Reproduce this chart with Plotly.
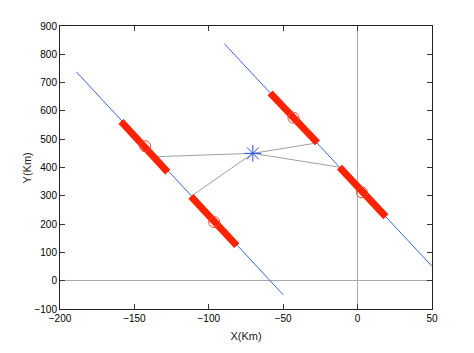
import plotly.graph_objects as go

# Data
line1_x = [-189, -50]
line1_y = [738, -50]
line2_x = [-89.5, 50]
line2_y = [837, 51]

seg_x = [[-159, -127.6], [-112, -81.2], [-58.8, -27], [-12.2, 19]]
seg_y = [[563, 384], [298, 124], [664, 487], [401, 226]]

circle_x = [-142.8, -96.4, -43.1, 2.9]
circle_y = [475, 207, 576, 312]

star_x = [-70.4]
star_y = [450]

link_x = [[-70.4, -136.3], [-70.4, -112], [-70.4, -27], [-70.4, -12.2]]
link_y = [[450, 438], [450, 298], [450, 487], [450, 401]]

x_ticks = [-200, -150, -100, -50, 0, 50]
y_ticks = [-100, 0, 100, 200, 300, 400, 500, 600, 700, 800, 900]

fig = go.Figure()

for lx, ly in ((line1_x, line1_y), (line2_x, line2_y)):
    fig.add_trace(go.Scatter(x=lx, y=ly, mode="lines",
                             line=dict(color="#3a66e8", width=1)))

for lx, ly in zip(link_x, link_y):
    fig.add_trace(go.Scatter(x=lx, y=ly, mode="lines",
                             line=dict(color="#a0a0a0", width=1)))

for sx, sy in zip(seg_x, seg_y):
    fig.add_trace(go.Scatter(x=sx, y=sy, mode="lines",
                             line=dict(color="#ff2200", width=7)))

fig.add_trace(go.Scatter(x=circle_x, y=circle_y, mode="markers",
                         marker=dict(symbol="circle-open", size=11,
                                     color="#ff4030", line=dict(width=1))))

fig.add_trace(go.Scatter(x=star_x, y=star_y, mode="markers",
                         marker=dict(symbol="asterisk-open", size=14,
                                     color="#2a4ef0", line=dict(width=1, color="#2a4ef0"))))

axis_common = dict(showgrid=False, ticks="inside", ticklen=5, tickcolor="#333",
                   showline=True, linecolor="#222", linewidth=1, mirror="ticks",
                   zeroline=True, zerolinecolor="#aaaaaa", zerolinewidth=1,
                   tickfont=dict(family="Liberation Sans, Arial", size=10, color="#000"),
                   title_font=dict(family="Liberation Sans, Arial", size=11, color="#222"))

fig.update_layout(
    width=474, height=353,
    margin=dict(l=60, r=42, t=26, b=35),
    paper_bgcolor="white", plot_bgcolor="white",
    showlegend=False,
    xaxis=dict(range=[-200, 50], tickvals=x_ticks, title=dict(text="X(Km)", standoff=9),
               **axis_common),
    yaxis=dict(range=[-100, 900], tickvals=y_ticks, **axis_common),
    annotations=[dict(text="Y(Km)", xref="paper", yref="paper", x=-0.089, y=0.5,
                      xanchor="center", yanchor="middle", textangle=-90, showarrow=False,
                      font=dict(family="Liberation Sans, Arial", size=11, color="#222"))],
)

fig.write_html("out.html")
